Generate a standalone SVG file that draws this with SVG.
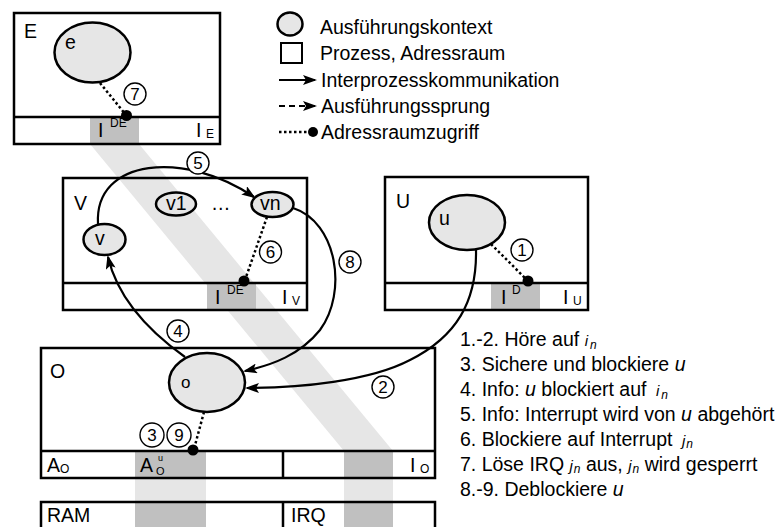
<svg xmlns="http://www.w3.org/2000/svg" width="781" height="527" viewBox="0 0 781 527">
<defs>
<style>
text{font-family:"Liberation Sans",Arial,sans-serif;fill:#000}
.lbl{font-size:19.5px}
.sm{font-size:12px}
.num{font-size:17px}
.box{fill:none;stroke:#000;stroke-width:2.5}
.ctx{fill:#e6e6e6;stroke:#000;stroke-width:2.5}
.dot{fill:none;stroke:#000;stroke-width:2.5;stroke-dasharray:2.5 2.5}
.ipc{fill:none;stroke:#000;stroke-width:2.2;marker-end:url(#ah)}
.nc{fill:#fff;stroke:#000;stroke-width:1.4}
.band{fill:#e6e6e6}
.dark{fill:#c0c0c0}
.it{font-style:italic}
</style>
<marker id="ah" viewBox="0 0 14 10" markerWidth="14" markerHeight="10" refX="12" refY="5" orient="auto" markerUnits="userSpaceOnUse">
<path d="M0,0 L14,5 L0,10 L3,5 z" fill="#000"/>
</marker>
</defs>
<rect width="781" height="527" fill="#fff"/>

<g id="bands">
<polygon class="band" points="90,144 139,144 393,451 344,451"/>
<rect class="band" x="135" y="478" width="71" height="24"/>
<rect class="band" x="344" y="478" width="49" height="24"/>
<rect class="dark" x="90" y="117" width="49" height="27"/>
<rect class="dark" x="207" y="283" width="49" height="27"/>
<rect class="dark" x="491" y="283" width="49" height="27"/>
<rect class="dark" x="135" y="451" width="71" height="27"/>
<rect class="dark" x="344" y="451" width="49" height="27"/>
<rect class="dark" x="135" y="502" width="71" height="25"/>
<rect class="dark" x="344" y="502" width="49" height="25"/>
</g>

<g id="legend">
<ellipse class="ctx" cx="290" cy="24" rx="12.5" ry="11.5" stroke-width="2"/>
<text class="lbl" x="320" y="34">Ausführungskontext</text>
<rect x="281" y="43" width="21" height="20" fill="none" stroke="#000" stroke-width="2"/>
<text class="lbl" x="320" y="60">Prozess, Adressraum</text>
<line x1="279" y1="80" x2="315" y2="80" stroke="#000" stroke-width="2.2" marker-end="url(#ah)"/>
<text class="lbl" x="321" y="87">Interprozesskommunikation</text>
<line x1="279" y1="106" x2="315" y2="106" stroke="#000" stroke-width="2.2" stroke-dasharray="6 4" marker-end="url(#ah)"/>
<text class="lbl" x="321" y="113">Ausführungssprung</text>
<line x1="279" y1="132" x2="310" y2="132" class="dot"/>
<circle cx="313" cy="132" r="5" fill="#000"/>
<text class="lbl" x="321" y="139">Adressraumzugriff</text>
</g>

<g id="E">
<rect class="box" x="14" y="13" width="206" height="131"/>
<line x1="14" y1="117" x2="220" y2="117" stroke="#000" stroke-width="2.5"/>
<text class="lbl" x="24" y="38">E</text>
<ellipse class="ctx" cx="92.5" cy="52.5" rx="38" ry="30"/>
<text class="lbl" x="65" y="49">e</text>
<text class="lbl" x="98" y="137">I</text>
<text class="sm" x="110" y="127">DE</text>
<text class="lbl" x="196" y="137">I</text>
<text class="sm" x="206" y="138">E</text>
</g>

<g id="V">
<rect class="box" x="63" y="178" width="244" height="132"/>
<line x1="63" y1="283" x2="307" y2="283" stroke="#000" stroke-width="2.5"/>
<text class="lbl" x="74" y="210">V</text>
<ellipse class="ctx" cx="104.5" cy="239.5" rx="21" ry="15.5"/>
<text class="lbl" x="95" y="245">v</text>
<ellipse class="ctx" cx="176" cy="204" rx="20" ry="11.5"/>
<text class="lbl" x="166" y="210">v1</text>
<text class="lbl" x="211" y="210">…</text>
<ellipse class="ctx" cx="272.5" cy="204.5" rx="21" ry="12.5"/>
<text class="lbl" x="260" y="210">vn</text>
<text class="lbl" x="215" y="304">I</text>
<text class="sm" x="227" y="294">DE</text>
<text class="lbl" x="282" y="304">I</text>
<text class="sm" x="292" y="305">V</text>
</g>

<g id="U">
<rect class="box" x="385" y="177" width="203" height="133"/>
<line x1="385" y1="283" x2="588" y2="283" stroke="#000" stroke-width="2.5"/>
<text class="lbl" x="396" y="208">U</text>
<ellipse class="ctx" cx="467" cy="222.5" rx="38" ry="27.5"/>
<text class="lbl" x="439" y="225">u</text>
<text class="lbl" x="501" y="304">I</text>
<text class="sm" x="512" y="294">D</text>
<text class="lbl" x="563" y="304">I</text>
<text class="sm" x="573" y="305">U</text>
</g>

<g id="O">
<rect class="box" x="41" y="348" width="394" height="130"/>
<line x1="41" y1="451" x2="435" y2="451" stroke="#000" stroke-width="2.5"/>
<line x1="283" y1="451" x2="283" y2="478" stroke="#000" stroke-width="2.5"/>
<text class="lbl" x="50" y="378">O</text>
<ellipse class="ctx" cx="207" cy="382.5" rx="38" ry="29.5"/>
<text class="lbl" x="181" y="388" style="font-size:17px">o</text>
<text class="lbl" x="47" y="472">A</text>
<text class="sm" x="60" y="473">O</text>
<text class="lbl" x="140" y="472">A</text>
<text x="158" y="461" style="font-size:9px">u</text>
<text x="156" y="475" style="font-size:11px">O</text>
<text class="lbl" x="410" y="472">I</text>
<text class="sm" x="420" y="473">O</text>
</g>

<g id="HW">
<path d="M41,527 V502 H435 V527 M283,502 V527" class="box"/>
<text class="lbl" x="47" y="522">RAM</text>
<text class="lbl" x="291" y="522">IRQ</text>
</g>

<g id="connectors">
<line x1="100" y1="83" x2="126" y2="115" class="dot"/>
<circle cx="126.5" cy="115.5" r="5.5" fill="#000"/>
<line x1="267" y1="217" x2="245" y2="280" class="dot"/>
<circle cx="244" cy="281" r="5.5" fill="#000"/>
<line x1="491" y1="244" x2="527" y2="280" class="dot"/>
<circle cx="528" cy="281" r="5.5" fill="#000"/>
<line x1="204" y1="412" x2="194" y2="449" class="dot"/>
<circle cx="193" cy="450" r="5.5" fill="#000"/>
<path class="ipc" d="M98,224 C94,158 185,150 254,197"/>
<path class="ipc" d="M293,208 C337,222 348,292 320,330 C300,355 272,365 245,371"/>
<path class="ipc" d="M185,357 C150,332 118,300 108,257"/>
<path class="ipc" d="M476,250 C477,302 456,337 410,360 C370,381 300,388 247,388"/>
</g>

<g id="numbers">
<circle class="nc" cx="135" cy="94" r="11"/><text class="num" x="135" y="100" text-anchor="middle">7</text>
<circle class="nc" cx="198" cy="163" r="11"/><text class="num" x="198" y="169" text-anchor="middle">5</text>
<circle class="nc" cx="270.5" cy="252" r="11"/><text class="num" x="270.5" y="258" text-anchor="middle">6</text>
<circle class="nc" cx="350" cy="262" r="11"/><text class="num" x="350" y="268" text-anchor="middle">8</text>
<circle class="nc" cx="522" cy="250" r="11"/><text class="num" x="522" y="256" text-anchor="middle">1</text>
<circle class="nc" cx="178" cy="331" r="11"/><text class="num" x="178" y="337" text-anchor="middle">4</text>
<circle class="nc" cx="383" cy="387" r="11"/><text class="num" x="383" y="393" text-anchor="middle">2</text>
<circle class="nc" cx="152" cy="435" r="12"/><text class="num" x="152" y="441" text-anchor="middle">3</text>
<circle class="nc" cx="179" cy="435" r="12"/><text class="num" x="179" y="441" text-anchor="middle">9</text>
</g>

<g id="steps" class="lbl">
<text x="460" y="346">1.-2. Höre auf <tspan class="it" font-size="15">i</tspan><tspan class="it" font-size="12" dx="2" dy="3">n</tspan></text>
<text x="460" y="371">3. Sichere und blockiere <tspan class="it">u</tspan></text>
<text x="460" y="396">4. Info: <tspan class="it">u</tspan> blockiert auf <tspan class="it" font-size="15" dx="4">i</tspan><tspan class="it" font-size="12" dx="2" dy="3">n</tspan></text>
<text x="460" y="421">5. Info: Interrupt wird von <tspan class="it">u</tspan> abgehört</text>
<text x="460" y="446">6. Blockiere auf Interrupt <tspan class="it" font-size="15" dx="4">j</tspan><tspan class="it" font-size="12" dx="1" dy="2">n</tspan></text>
<text x="460" y="471">7. Löse IRQ <tspan class="it" font-size="15">j</tspan><tspan class="it" font-size="12" dx="1" dy="2">n</tspan><tspan dy="-2"> aus, </tspan><tspan class="it" font-size="15">j</tspan><tspan class="it" font-size="12" dx="1" dy="2">n</tspan><tspan dy="-2"> wird gesperrt</tspan></text>
<text x="460" y="496">8.-9. Deblockiere <tspan class="it">u</tspan></text>
</g>
</svg>
